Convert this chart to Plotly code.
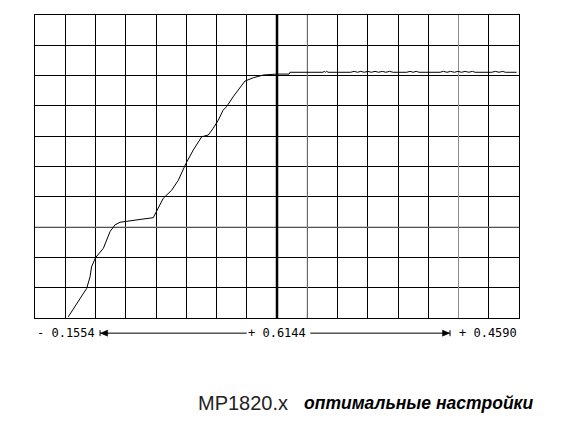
import plotly.graph_objects as go

# curve, in grid divisions (16 x 10)
pos = [1.10, 1.38, 1.71, 1.82, 1.87, 2.0, 2.26, 2.48, 2.64, 2.81, 3.25, 3.6, 3.91, 4.02,
       4.24, 4.52, 4.74, 4.99, 5.23, 5.51, 5.73, 5.89, 6.06, 6.22, 6.33, 6.55, 6.78, 6.94,
       7.22, 7.55, 7.99, 8.40, 8.43, 9.52, 9.56, 9.60, 9.64, 9.69, 10.44, 10.55, 10.66, 10.77,
       10.88, 11.0, 11.12, 11.24, 11.36, 11.48, 11.6, 11.72, 11.84, 11.96, 12.29, 12.4, 12.5,
       12.6, 12.7, 13.39, 13.5, 13.62, 13.74, 13.86, 13.98, 14.1, 14.22, 14.34, 14.46, 14.55,
       15.1, 15.22, 15.34, 15.46, 15.55, 15.92]
level = [0.04, 0.48, 0.98, 1.36, 1.69, 1.99, 2.30, 2.85, 3.07, 3.16, 3.23, 3.27, 3.31, 3.51,
         3.95, 4.22, 4.55, 5.10, 5.54, 5.98, 6.04, 6.26, 6.53, 6.86, 6.97, 7.30, 7.63, 7.82,
         7.93, 8.02, 8.05, 8.05, 8.11, 8.11, 8.14, 8.11, 8.14, 8.11, 8.11, 8.14, 8.11, 8.14,
         8.11, 8.14, 8.11, 8.14, 8.11, 8.14, 8.11, 8.14, 8.11, 8.11, 8.11, 8.14, 8.11,
         8.14, 8.11, 8.11, 8.14, 8.11, 8.14, 8.11, 8.14, 8.11, 8.14, 8.11, 8.14, 8.11,
         8.11, 8.14, 8.11, 8.14, 8.11, 8.11]

scale_left = '- 0.1554'
scale_mid = '+ 0.6144'
scale_right = '+ 0.4590'
caption_model = 'MP1820.x'
caption_note = 'оптимальные настройки'

fig = go.Figure()
fig.add_trace(go.Scatter(x=pos, y=level, mode='lines',
                         line=dict(color='black', width=1), hoverinfo='skip'))

fig.update_xaxes(range=[0, 16], dtick=1, showticklabels=False, showgrid=True,
                 gridcolor='black', gridwidth=1, zeroline=False,
                 showline=True, linecolor='black', linewidth=1, mirror=True)
fig.update_yaxes(range=[0, 10], dtick=1, showticklabels=False, showgrid=True,
                 gridcolor='black', gridwidth=1, zeroline=False,
                 showline=True, linecolor='black', linewidth=1, mirror=True)

# lighter grid lines and the heavy centre line
for c in [9, 14]:
    fig.add_shape(type='line', x0=c, x1=c, y0=0, y1=10, line=dict(color='#8c8c8c', width=1), layer='between')
fig.add_shape(type='line', x0=0, x1=16, y0=3, y1=3, line=dict(color='#8c8c8c', width=1), layer='between')
fig.add_shape(type='line', x0=8, x1=8, y0=0, y1=10, line=dict(color='black', width=2.5))

# scale bar under the screen
yb = -0.05
fig.add_shape(type='line', xref='x', yref='paper', x0=2.15, x1=7.0, y0=yb, y1=yb,
              line=dict(color='black', width=1))
fig.add_shape(type='line', xref='x', yref='paper', x0=9.1, x1=13.72, y0=yb, y1=yb,
              line=dict(color='black', width=1))
fig.add_shape(type='line', xref='x', yref='paper', x0=2.15, x1=2.15, y0=yb - 0.01, y1=yb + 0.01,
              line=dict(color='black', width=1))
fig.add_shape(type='path', xref='x', yref='paper',
              path=f'M 2.17,{yb} L 2.4,{yb + 0.01} L 2.4,{yb - 0.01} Z',
              fillcolor='black', line=dict(color='black', width=0.5))
fig.add_shape(type='line', xref='x', yref='paper', x0=13.72, x1=13.72, y0=yb - 0.01, y1=yb + 0.01,
              line=dict(color='black', width=1))
fig.add_shape(type='path', xref='x', yref='paper',
              path=f'M 13.70,{yb} L 13.47,{yb + 0.01} L 13.47,{yb - 0.01} Z',
              fillcolor='black', line=dict(color='black', width=0.5))

mono = dict(family='DejaVu Sans Mono', size=12, color='black')
fig.add_annotation(text=scale_left, x=0, y=yb, xref='x', yref='paper', xanchor='left',
                   yanchor='middle', showarrow=False, font=mono)
fig.add_annotation(text=scale_mid, x=8.0, y=yb, xref='x', yref='paper', xanchor='center',
                   yanchor='middle', showarrow=False, font=mono)
fig.add_annotation(text=scale_right, x=16, y=yb, xref='x', yref='paper', xanchor='right',
                   yanchor='middle', showarrow=False, font=mono)

cap_y = -(403 - 318) / 303
fig.add_annotation(text=caption_model, xref='paper', yref='paper',
                   x=(290 - 35) / 484, y=cap_y, xanchor='right', yanchor='middle', showarrow=False,
                   font=dict(family='Liberation Sans', size=20, color='#222'))
fig.add_annotation(text='<b><i>' + caption_note + '</i></b>', xref='paper', yref='paper',
                   x=(302 - 35) / 484, y=cap_y, xanchor='left', yanchor='middle',
                   showarrow=False, font=dict(family='Liberation Sans', size=17.5, color='black'))

fig.update_layout(width=561, height=421, margin=dict(l=27, r=50, t=7, b=111),
                  paper_bgcolor='white', plot_bgcolor='white', showlegend=False)

fig.write_html('out.html')
